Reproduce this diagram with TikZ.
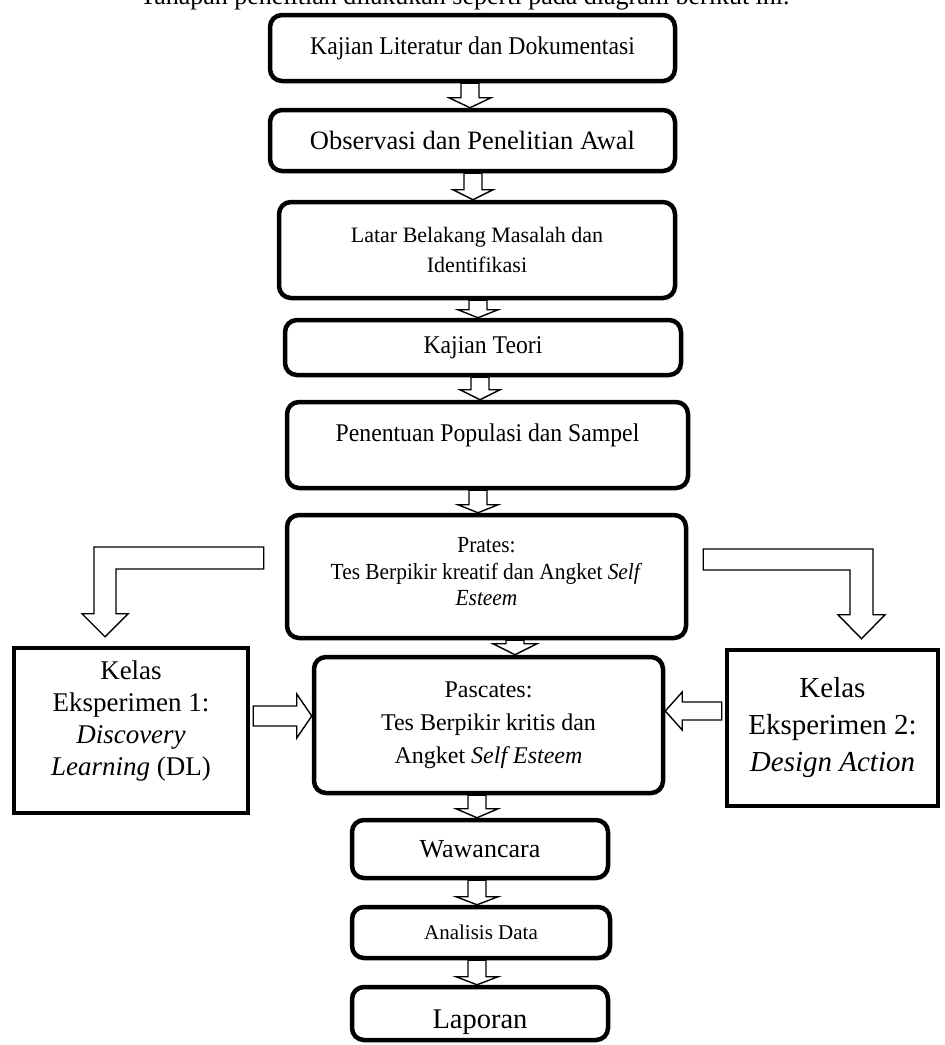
\documentclass[tikz,border=0pt]{standalone}
\usepackage{fontspec}
\setmainfont{Liberation Serif}
\newfontfamily\narrowfont[FakeStretch=0.93]{Liberation Serif}
\usetikzlibrary{calc}
\tikzset{
  flowbox/.style={draw, line width=4.5pt, rounded corners=12pt, fill=white, align=center, inner sep=2pt},
  kelasbox/.style={draw, line width=4.5pt, fill=white, align=center, inner sep=2pt},
  blockarrow/.style={draw, line width=1.4pt, fill=white, line join=miter},
  narrowA/.style={font=\narrowfont\fontsize{25.5}{30}\selectfont},
}
\newcommand{\varrow}[5]{%
  \draw[blockarrow] let \p1=(#2.south), \p2=(#3.north) in
   (#1pt-9pt,\y1) -- (#1pt+9pt,\y1) -- (#1pt+9pt,\y2+#4pt) -- (#1pt+#5pt,\y2+#4pt)
   -- (#1pt,\y2) -- (#1pt-#5pt,\y2+#4pt) -- (#1pt-9pt,\y2+#4pt) -- cycle;}
\begin{document}
\begin{tikzpicture}[x=1pt,y=1pt]
\path[use as bounding box, fill=white] (0,0) rectangle (945,-1045);
% partly visible line of running text above the diagram
\node[anchor=base west, inner sep=0, font=\fontsize{26}{30}\selectfont] (intro) at (140,-4)
  {Tahapan penelitian dilakukan seperti pada diagram berikut ini.};
% main column
\node[flowbox, narrowA, minimum width=405pt, minimum height=66pt] (lit) at (472.5,-48)
  {Kajian Literatur dan Dokumentasi};
\node[flowbox, font=\fontsize{26.5}{31}\selectfont, minimum width=405pt, minimum height=61pt] (obs) at (472.5,-140.5)
  {Observasi dan Penelitian Awal};
\node[flowbox, font=\fontsize{22}{30}\selectfont, minimum width=396pt, minimum height=96pt] (latar) at (477,-250)
  {Latar Belakang Masalah dan\\Identifikasi};
\node[flowbox, narrowA, minimum width=396pt, minimum height=55pt] (teori) at (483,-347.5)
  {Kajian Teori};
\node[flowbox, narrowA, text depth=24pt, minimum width=401pt, minimum height=86pt] (pop) at (487.5,-445)
  {Penentuan Populasi dan Sampel};
\node[flowbox, font=\narrowfont\fontsize{23}{26.5}\selectfont, minimum width=399pt, minimum height=123pt] (prates) at (486.5,-576.5)
  {\mbox{}\\[-21pt]Prates:\\Tes Berpikir kreatif dan Angket \textit{Self}\\\textit{Esteem}};
\node[flowbox, font=\fontsize{24}{33}\selectfont, minimum width=349pt, minimum height=136pt] (pasc) at (488.5,-725)
  {Pascates:\\Tes Berpikir kritis dan\\Angket \textit{Self Esteem}};
\node[flowbox, font=\fontsize{26}{30}\selectfont, minimum width=256pt, minimum height=58pt] (waw) at (480,-849)
  {Wawancara};
\node[flowbox, font=\fontsize{21}{25}\selectfont, minimum width=258pt, minimum height=51pt] (anal) at (481,-932.5)
  {Analisis Data};
\node[flowbox, font=\fontsize{28.5}{33}\selectfont, text height=36pt, minimum width=256pt, minimum height=53pt] (lap) at (480,-1013.5)
  {Laporan};
% side classes
\node[kelasbox, font=\fontsize{27}{32}\selectfont, minimum width=234pt, minimum height=165pt] (k1) at (131,-730.5)
  {Kelas\\Eksperimen 1:\\\textit{Discovery}\\\textit{Learning} (DL)\\[-8pt]\mbox{}};
\node[kelasbox, font=\fontsize{29}{37}\selectfont, minimum width=211pt, minimum height=156pt] (k2) at (832.5,-728)
  {Kelas\\Eksperimen 2:\\\textit{Design Action}};
% vertical block arrows
\varrow{470}{lit}{obs}{10}{21}
\varrow{473}{obs}{latar}{10}{20}
\varrow{478}{latar}{teori}{8}{20}
\varrow{480}{teori}{pop}{10}{20}
\varrow{478}{pop}{prates}{8}{20}
\varrow{515}{prates}{pasc}{11}{22}
\varrow{477}{pasc}{waw}{9}{21}
\varrow{477}{waw}{anal}{8}{21}
\varrow{477}{anal}{lap}{8}{21}
% bent arrows from Prates to the two classes
\draw[blockarrow] let \p1=(prates.west), \p2=(k1.north) in
  (\x1-21pt,-547pt) -- (94pt,-547pt) -- (94pt,\y2+32pt) -- (82pt,\y2+32pt) -- (105pt,\y2+9pt)
  -- (128pt,\y2+32pt) -- (116pt,\y2+32pt) -- (116pt,-569pt) -- (\x1-21pt,-569pt) -- cycle;
\draw[blockarrow] let \p1=(prates.east), \p2=(k2.north) in
  (\x1+15pt,-549pt) -- (873pt,-549pt) -- (873pt,\y2+33pt) -- (885pt,\y2+33pt) -- (861.5pt,\y2+9pt)
  -- (838pt,\y2+33pt) -- (850pt,\y2+33pt) -- (850pt,-570pt) -- (\x1+15pt,-570pt) -- cycle;
% horizontal arrows from the classes into Pascates
\draw[blockarrow] let \p1=(k1.east), \p2=(pasc.west) in
  (\x1+3pt,-706pt) -- (\x2-15pt,-706pt) -- (\x2-15pt,-694pt) -- (\x2,-716pt)
  -- (\x2-15pt,-738pt) -- (\x2-15pt,-726pt) -- (\x1+3pt,-726pt) -- cycle;
\draw[blockarrow] let \p1=(k2.west), \p2=(pasc.east) in
  (\x1-3pt,-702pt) -- (\x2+17pt,-702pt) -- (\x2+17pt,-692pt) -- (\x2,-711pt)
  -- (\x2+17pt,-730pt) -- (\x2+17pt,-720pt) -- (\x1-3pt,-720pt) -- cycle;
\end{tikzpicture}
\end{document}
